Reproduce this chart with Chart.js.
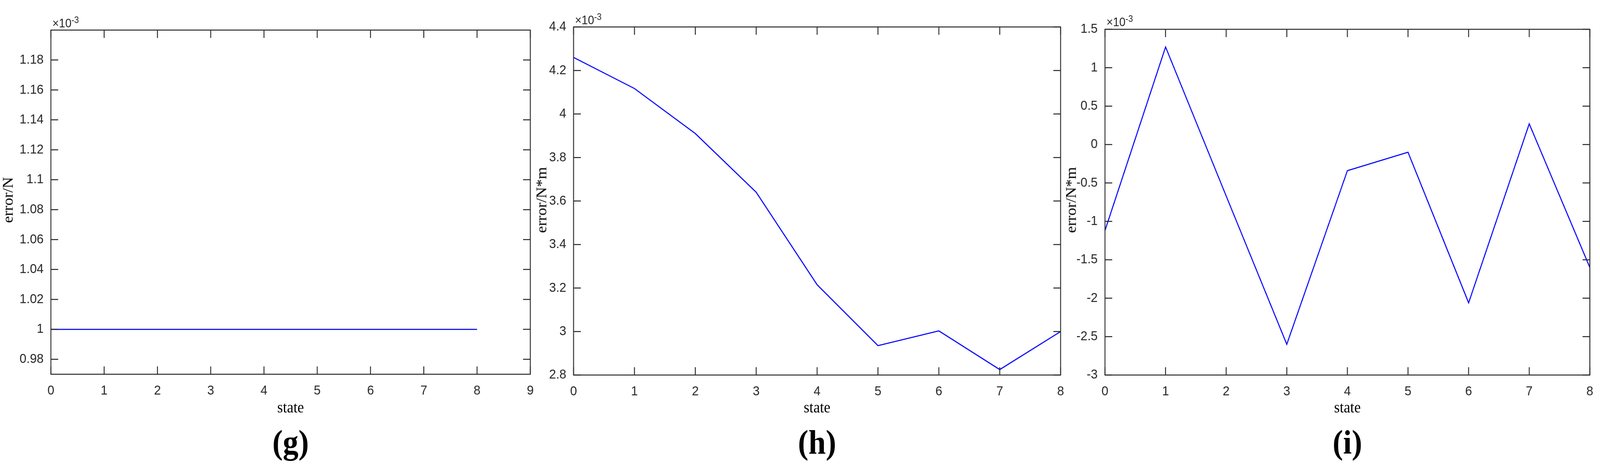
<!DOCTYPE html>
<html><head><meta charset="utf-8">
<script src="https://cdn.jsdelivr.net/npm/chart.js@4/dist/chart.umd.min.js"></script>
<style>
html,body{margin:0;background:#fff;overflow:hidden}
#wrap{position:absolute;left:0;top:0;width:4402px;height:1198px;transform-origin:0 0}
.box{position:absolute;top:0;height:1198px}
.t{position:absolute;font-family:"Liberation Serif",serif;color:#000;white-space:nowrap}
.yl{transform:translate(-50%,-50%) rotate(-90deg);font-size:40px}
.xl{transform:translate(-50%,-50%);font-size:40px}
.pl{transform:translate(-50%,-50%);font-size:86px;font-weight:bold}
.ex{position:absolute;font-family:"Liberation Sans",sans-serif;font-size:31px;color:#262626;transform:translateY(-50%);white-space:nowrap}
.ex sup{font-size:23px}
</style></head><body>
<div id="wrap"></div>
<script>
const states = [0,1,2,3,4,5,6,7,8];
const gValues = [1,1,1,1,1,1,1,1,1];
const hValues = [4.26,4.117,3.91,3.64,3.215,2.935,3.003,2.825,3.0];
const iValues = [-1.12,1.27,-0.67,-2.6,-0.34,-0.1,-2.06,0.27,-1.6];
const gYTicks = [0.98,1.0,1.02,1.04,1.06,1.08,1.1,1.12,1.14,1.16,1.18];
const hYTicks = [2.8,3.0,3.2,3.4,3.6,3.8,4.0,4.2,4.4];
const iYTicks = [-3,-2.5,-2,-1.5,-1,-0.5,0,0.5,1,1.5];
const gXTicks = [0,1,2,3,4,5,6,7,8,9];
const hXTicks = [0,1,2,3,4,5,6,7,8];
const iXTicks = [0,1,2,3,4,5,6,7,8];

const wrap=document.getElementById('wrap');
const sx=(window.innerWidth||4402)/4402, sy=(window.innerHeight||1198)/1198;
wrap.style.transform='scale('+sx+','+sy+')';

const panels = [
 {L:0, W:1500, pl:140, pr:1459, pt:77, pb:958, vals:gValues, yt:gYTicks, xt:gXTicks, ymin:0.97, ymax:1.2, xmax:9, ylab:'error/N', ylx:22, ex:[144,58], tag:'(g)'},
 {L:1480, W:1470, pl:1578, pr:2918, pt:69, pb:960, vals:hValues, yt:hYTicks, xt:hXTicks, ymin:2.8, ymax:4.4, xmax:8, ylab:'error/N*m', ylx:1490, ex:[1582,50], tag:'(h)'},
 {L:2950, W:1452, pl:3040, pr:4374, pt:75, pb:960, vals:iValues, yt:iYTicks, xt:iXTicks, ymin:-3, ymax:1.5, xmax:8, ylab:'error/N*m', ylx:2947, ex:[3044,55], tag:'(i)'}
];

const frame = {
  id:'frame',
  afterDatasetsDraw(chart){
    const {ctx, chartArea:a, scales:{x,y}} = chart;
    ctx.save();
    ctx.strokeStyle='#262626'; ctx.lineWidth=2.5;
    ctx.strokeRect(a.left,a.top,a.right-a.left,a.bottom-a.top);
    ctx.beginPath();
    const tl=20;
    x.ticks.forEach(t=>{const px=x.getPixelForValue(t.value);
      ctx.moveTo(px,a.bottom);ctx.lineTo(px,a.bottom-tl);
      ctx.moveTo(px,a.top);ctx.lineTo(px,a.top+tl);});
    y.ticks.forEach(t=>{const py=y.getPixelForValue(t.value);
      ctx.moveTo(a.left,py);ctx.lineTo(a.left+tl,py);
      ctx.moveTo(a.right,py);ctx.lineTo(a.right-tl,py);});
    ctx.stroke();
    ctx.restore();
  }
};

panels.forEach(p=>{
  const d=document.createElement('div');d.className='box';
  d.style.left=p.L+'px';d.style.width=p.W+'px';
  const c=document.createElement('canvas');d.appendChild(c);wrap.appendChild(d);
  new Chart(c,{
    type:'line',
    data:{datasets:[{data:states.map((s,k)=>({x:s,y:p.vals[k]})),borderColor:'#0000ff',borderWidth:2.8,pointRadius:0,tension:0,fill:false}]},
    options:{
      responsive:true,maintainAspectRatio:false,animation:false,
      plugins:{legend:{display:false},tooltip:{enabled:false}},
      layout:{padding:{top:p.pt,right:p.L+p.W-p.pr,left:0,bottom:0}},
      scales:{
        x:{type:'linear',min:0,max:p.xmax,grid:{display:false},border:{display:false},
           afterBuildTicks:s=>{s.ticks=p.xt.map(v=>({value:v}));},
           afterFit:s=>{s.height=1198-p.pb;},
           ticks:{padding:14,color:'#262626',font:{family:'Liberation Sans',size:34},maxRotation:0,autoSkip:false,callback:v=>String(v)}},
        y:{type:'linear',min:p.ymin,max:p.ymax,grid:{display:false},border:{display:false},
           afterBuildTicks:s=>{s.ticks=p.yt.map(v=>({value:v}));},
           afterFit:s=>{s.width=p.pl-p.L;},
           ticks:{padding:12,color:'#262626',font:{family:'Liberation Sans',size:34},autoSkip:false,callback:v=>String(+v.toFixed(2))}}
      }
    },
    plugins:[frame]
  });
  const mk=(cls,html,x,y)=>{const e=document.createElement('div');e.className=cls;e.innerHTML=html;e.style.left=x+'px';e.style.top=y+'px';wrap.appendChild(e);};
  mk('t yl',p.ylab,p.ylx,512);
  const cx=(p.pl+p.pr)/2;
  mk('t xl','state',cx,1042);
  mk('t pl',p.tag,cx,1132);
  mk('ex','×10<sup>-3</sup>',p.ex[0],p.ex[1]);
});
</script>
</body></html>
